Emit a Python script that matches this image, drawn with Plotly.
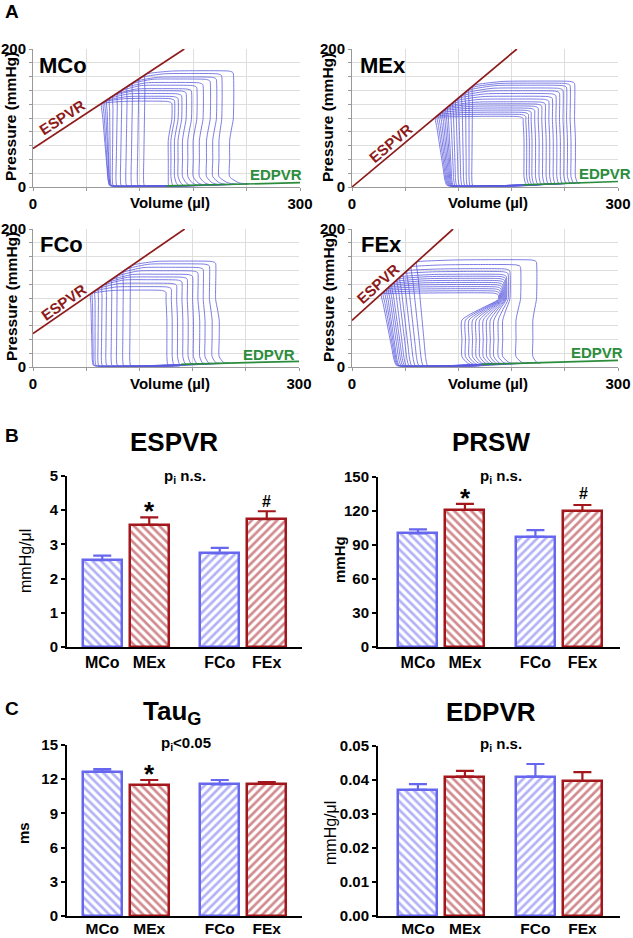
import numpy as np
import plotly.graph_objects as go

W, H = 633, 938
FONT = "Liberation Sans, Arial, sans-serif"
BLUE = "#6666ee"
RED = "#a3161b"
LOOP_C = "#5c5ce0"
ESP_C = "#8e1b1b"
EDP_C = "#2b8c3c"

# ---------------- Panel A: PV loops ----------------
pv_names = ["MCo", "MEx", "FCo", "FEx"]

mco_esv_top = [77, 79, 81, 83, 86, 90, 95, 100, 106, 112, 119, 126]
mco_esv_bot = [85, 85, 86, 86, 87, 89, 93, 98, 104, 110, 117, 124]
mco_edv_top = [156, 159, 163, 167, 172, 178, 184, 191, 199, 206, 212, 225]
mco_edv_mid = [152, 155, 159, 163, 168, 174, 180, 187, 195, 202, 209, 221]
mco_edv_bot = [152, 157, 163, 169, 176, 184, 191, 199, 208, 217, 229, 242]
mco_pes = [121, 123, 124, 126, 129, 132, 136, 141, 146, 151, 157, 163]
mco_ptop = [124, 128, 131, 135, 139, 142, 147, 151, 156, 159, 164, 168]
mco_espvr_v = [0, 170]
mco_espvr_p = [55.6, 200]
mco_edpvr_v = [150, 300]
mco_edpvr_p = [1.5, 6.3]

mex_esv_top = [94, 96, 98, 100, 102, 104, 106, 108, 111, 114, 117, 120, 124, 128, 132, 136]
mex_esv_bot = [106, 107, 108, 109, 110, 111, 112, 113, 115, 117, 120, 123, 126, 129, 132, 135]
mex_edv_top = [193, 196, 199, 202, 206, 210, 214, 218, 222, 226, 230, 234, 238, 242, 246, 251]
mex_edv_mid = [194, 197, 200, 203, 207, 211, 215, 219, 223, 227, 231, 235, 239, 243, 247, 252]
mex_edv_bot = [197, 200, 203, 206, 210, 214, 218, 222, 226, 230, 234, 238, 243, 248, 252, 257]
mex_pes = [101, 103, 105, 107.5, 110, 112, 114, 116, 119, 122.5, 126, 129, 133, 137.5, 142, 146]
mex_ptop = [102, 105, 108, 111, 114, 117, 120, 123, 127, 131, 135, 139, 143, 147, 150, 153]
mex_espvr_v = [0, 186]
mex_espvr_p = [0, 200]
mex_edpvr_v = [193, 300]
mex_edpvr_p = [3.0, 8.0]

fco_esv_top = [65, 67, 70, 74, 78, 83, 89, 95, 102, 110]
fco_esv_bot = [67, 68, 70, 73, 77, 82, 88, 94, 101, 109]
fco_edv_top = [150, 156, 162, 168, 174, 180, 186, 192, 199, 206]
fco_edv_mid = [151, 157, 163, 169, 175, 181, 188, 194, 202, 210]
fco_edv_bot = [152, 159, 166, 173, 180, 187, 194, 202, 211, 221]
fco_pes = [106, 108, 110.5, 114, 117.5, 122, 127, 132.5, 139, 146]
fco_ptop = [111, 116, 121, 126, 130, 134, 139, 144, 149, 153]
fco_espvr_v = [0, 171]
fco_espvr_p = [48.4, 200]
fco_edpvr_v = [167, 300]
fco_edpvr_p = [3.9, 8.2]

fex_esv_top = [33, 35, 37, 39, 41, 43, 45, 48, 51, 54, 58, 62, 67, 73]
fex_esv_bot = [49, 50, 51, 52, 54, 56, 58, 60, 63, 66, 70, 74, 79, 84]
fex_edv_top = [165, 166, 167, 168, 169, 170, 171, 172, 173, 174, 176, 178, 190, 208]
fex_edv_mid = [124, 128, 132, 136, 140, 144, 148, 152, 156, 160, 165, 170, 185, 204]
fex_edv_bot = [136, 140, 144, 148, 152, 156, 160, 164, 168, 172, 178, 186, 200, 214]
fex_pes = [106, 108, 110.4, 112.7, 115, 117.4, 119.7, 123, 126.7, 130, 134.8, 139.4, 145, 152]
fex_ptop = [107, 110, 113, 116, 119, 122, 125, 128, 131, 134, 138, 142, 148, 155]
fex_espvr_v = [0, 114]
fex_espvr_p = [67.5, 200]
fex_edpvr_v = [146, 300]
fex_edpvr_p = [3.9, 9.6]

pv_data = [
    (mco_esv_top, mco_esv_bot, mco_edv_top, mco_edv_mid, mco_edv_bot, mco_pes, mco_ptop,
     mco_espvr_v, mco_espvr_p, mco_edpvr_v, mco_edpvr_p),
    (mex_esv_top, mex_esv_bot, mex_edv_top, mex_edv_mid, mex_edv_bot, mex_pes, mex_ptop,
     mex_espvr_v, mex_espvr_p, mex_edpvr_v, mex_edpvr_p),
    (fco_esv_top, fco_esv_bot, fco_edv_top, fco_edv_mid, fco_edv_bot, fco_pes, fco_ptop,
     fco_espvr_v, fco_espvr_p, fco_edpvr_v, fco_edpvr_p),
    (fex_esv_top, fex_esv_bot, fex_edv_top, fex_edv_mid, fex_edv_bot, fex_pes, fex_ptop,
     fex_espvr_v, fex_espvr_p, fex_edpvr_v, fex_edpvr_p),
]

# ---------------- Panels B and C: bar charts ----------------
groups = ["MCo", "MEx", "FCo", "FEx"]
espvr_mean = [2.54, 3.57, 2.74, 3.74]
espvr_sem = [0.13, 0.22, 0.16, 0.23]
prsw_mean = [100.3, 120.9, 97.3, 120.0]
prsw_sem = [3.5, 5.3, 5.9, 5.3]
tau_mean = [12.66, 11.49, 11.55, 11.58]
tau_sem = [0.23, 0.44, 0.38, 0.17]
edpvr_mean = [0.0371, 0.0410, 0.0410, 0.0397]
edpvr_sem = [0.0017, 0.0017, 0.0037, 0.0026]

bar_pos = [0, 1, 2.5, 3.5]
bar_colors = [BLUE, RED, BLUE, RED]
bar_shapes = ["\\", "\\", "/", "/"]


def loop_path(esv_t, esv_b, edv_t, edv_m, edv_b, pes, ptop, ped):
    pr = ptop - 3
    p_hi = min(98, pr - 6)
    p_md = min(84, p_hi - 8)
    p_lo = min(68, p_md - 8)
    # isovolumic contraction (right side), bottom -> top
    xs = [edv_b, 0.5 * (edv_b + edv_m), edv_m, edv_m, edv_m, 0.5 * (edv_m + edv_t), edv_t, edv_t]
    ys = [ped, 6, 15, 40, p_lo, p_md, p_hi, pr]
    # top-right corner and ejection
    span = edv_t - esv_t
    xs += [edv_t - 1, edv_t - 5, esv_t + 0.6 * span, esv_t + 0.3 * span, esv_t + 6, esv_t]
    ys += [ptop - 1.5, ptop, ptop + 0.5, ptop, pes + 0.4 * (ptop - pes), pes]
    # isovolumic relaxation (left side)
    for f in [0.85, 0.65, 0.45, 0.25, 0.1]:
        xs.append(esv_t + (esv_b - esv_t) * (1 - f))
        ys.append(pes * f)
    # filling (bottom)
    xs += [esv_b + 1, esv_b + 6, esv_b + 0.4 * (edv_b - esv_b), esv_b + 0.75 * (edv_b - esv_b), edv_b]
    ys += [2.5, 1.2, 1.2, max(1.2, ped * 0.7), ped]
    return xs, ys


def dom_x(a, b):
    return [a / W, b / W]


def dom_y(top, bot):
    return [1 - bot / H, 1 - top / H]


fig = go.Figure()

pv_boxes = [(33, 300, 49, 187), (352, 618, 49, 187), (33, 299, 229, 367), (352, 618, 229, 367)]

for i, d in enumerate(pv_data):
    esv_t, esv_b, edv_t, edv_m, edv_b, pes, ptop, sv, sp, dv, dp = d
    xa = "x" if i == 0 else f"x{i+1}"
    ya = "y" if i == 0 else f"y{i+1}"
    for k in range(len(esv_t)):
        ped = float(np.interp(edv_b[k], dv, dp, left=2.0))
        xs, ys = loop_path(esv_t[k], esv_b[k], edv_t[k], edv_m[k], edv_b[k], pes[k], ptop[k], ped)
        fig.add_trace(go.Scatter(x=xs, y=ys, mode="lines", xaxis=xa, yaxis=ya,
                                 line=dict(color=LOOP_C, width=0.8, shape="spline", smoothing=0.6),
                                 showlegend=False, hoverinfo="skip"))
    fig.add_trace(go.Scatter(x=sv, y=sp, mode="lines", xaxis=xa, yaxis=ya,
                             line=dict(color=ESP_C, width=1.7), showlegend=False))
    fig.add_trace(go.Scatter(x=dv, y=dp, mode="lines", xaxis=xa, yaxis=ya,
                             line=dict(color=EDP_C, width=1.7), showlegend=False))

bar_sets = [(espvr_mean, espvr_sem), (prsw_mean, prsw_sem), (tau_mean, tau_sem), (edpvr_mean, edpvr_sem)]
for j, (m, s) in enumerate(bar_sets):
    idx = j + 5
    for k in range(4):
        fig.add_trace(go.Bar(
            x=[bar_pos[k]], y=[m[k]], width=0.83, xaxis=f"x{idx}", yaxis=f"y{idx}",
            marker=dict(color="white", line=dict(color=bar_colors[k], width=2.5),
                        pattern=dict(shape=bar_shapes[k], fgcolor=bar_colors[k], bgcolor="white",
                                     size=6, solidity=0.45)),
            error_y=dict(type="data", array=[s[k]], arrayminus=[0], symmetric=False,
                         color=bar_colors[k], thickness=2.2, width=9),
            showlegend=False))

layout = dict(width=W, height=H, margin=dict(l=0, r=0, t=0, b=0, autoexpand=False),
              paper_bgcolor="white", plot_bgcolor="white", bargap=0,
              font=dict(family=FONT, color="black"))

for i, (x0, x1, y0, y1) in enumerate(pv_boxes):
    sx = "" if i == 0 else str(i + 1)
    layout[f"xaxis{sx}"] = dict(
        domain=dom_x(x0, x1), range=[0, 300], anchor=f"y{sx}", automargin=False,
        tickvals=[0, 300], ticktext=["0", "300"],
        tickfont=dict(size=15, weight="bold", color="black"), ticks="outside", ticklen=3,
        tickcolor="#999", showline=True, linecolor="#999", linewidth=1,
        showgrid=True, gridcolor="#dedede", gridwidth=1, zeroline=False,
        minor=dict(tickvals=[60, 120, 180, 240], ticks="outside", ticklen=3, tickcolor="#999",
                   showgrid=True, gridcolor="#dedede", gridwidth=1))
    layout[f"yaxis{sx}"] = dict(
        domain=dom_y(y0, y1), range=[0, 200], anchor=f"x{sx}", automargin=False,
        tickvals=[0, 200], ticktext=["0", "200"],
        tickfont=dict(size=15, weight="bold", color="black"), ticks="outside", ticklen=3,
        tickcolor="#999", showline=True, linecolor="#999", linewidth=1,
        showgrid=True, gridcolor="#dedede", gridwidth=1, zeroline=False,
        minor=dict(tickvals=list(range(20, 200, 20)), ticks="outside", ticklen=3, tickcolor="#999",
                   showgrid=True, gridcolor="#dedede", gridwidth=1))

bar_boxes = [(67, 302, 476, 647, [-0.75, 4.25], [0, 5], 1, None, 0),
             (378, 620, 477, 647, [-0.85, 4.3], [0, 150], 30, None, 0),
             (67, 302, 745, 916, [-0.75, 4.25], [0, 15], 3, None, -3),
             (378, 620, 746, 916, [-0.85, 4.3], [0, 0.05], 0.01, ".2f", -3)]
for j, (x0, x1, y0, y1, xr, yr, dt, fmt, so) in enumerate(bar_boxes):
    idx = j + 5
    layout[f"xaxis{idx}"] = dict(
        domain=dom_x(x0, x1), range=xr, anchor=f"y{idx}", automargin=False,
        tickvals=bar_pos, ticktext=groups, ticks="", ticklabelstandoff=so,
        tickfont=dict(size=16 if so == 0 else 15.5, weight="bold", color="black"),
        showline=True, linecolor="black", linewidth=2, showgrid=False, zeroline=False)
    ya = dict(domain=dom_y(y0, y1), range=yr, anchor=f"x{idx}", dtick=dt, automargin=False,
              tickfont=dict(size=15, weight="bold", color="black"),
              ticks="outside", ticklen=4, tickwidth=2, tickcolor="black",
              showline=True, linecolor="black", linewidth=2, showgrid=False, zeroline=False)
    if fmt:
        ya["tickformat"] = fmt
    layout[f"yaxis{idx}"] = ya

anns = []


def A(text, x, y, size, color="black", bold=True, angle=0, xanchor="center", yanchor="middle"):
    anns.append(dict(text=f"<b>{text}</b>" if bold else text, x=x / W, y=1 - y / H,
                     xref="paper", yref="paper", showarrow=False,
                     font=dict(size=size, color=color, family=FONT),
                     textangle=angle, xanchor=xanchor, yanchor=yanchor))


# panel letters
A("A", 3, 12, 19, xanchor="left")
A("B", 3, 435, 19, xanchor="left")
A("C", 3, 708, 19, xanchor="left")

# PV panel labels
name_pos = [(37, 65), (358, 65), (38, 245), (359, 245)]
for (x, y), nm in zip(name_pos, pv_names):
    A(nm, x, y, 22, xanchor="left")
for x, y in [(11, 117), (328, 117), (11, 297), (328, 297)]:
    A("Pressure (mmHg)", x, y, 15.5, angle=-90)
for x, y in [(170, 203), (488, 203), (170, 383), (488, 383)]:
    A("Volume (µl)", x, y, 15)
esp_lab = [(62, 118, -33), (390, 143, -40), (63, 302, -35), (378, 283, -42)]
for x, y, ang in esp_lab:
    A("ESPVR", x, y, 15, color=ESP_C, angle=ang)
for x, y in [(276, 174), (605, 173), (269, 354), (597, 352)]:
    A("EDPVR", x, y, 15, color=EDP_C)

# bar panel titles
A("ESPVR", 174, 442, 26)
A("PRSW", 491, 442, 26)
A("Tau<sub>G</sub>", 172, 712, 26)
A("EDPVR", 491, 712, 26)
A("p<sub>i</sub> n.s.", 185, 476, 15)
A("p<sub>i</sub> n.s.", 501, 476, 15)
A("p<sub>i</sub><0.05", 186, 743, 15)
A("p<sub>i</sub> n.s.", 501, 744, 15)
A("mmHg/μl", 25, 561, 16, bold=False, angle=-90)
A("mmHg", 339, 560, 15, angle=-90)
A("ms", 23, 833, 15, angle=-90)
A("mmHg/μl", 330, 833, 16, bold=False, angle=-90)
# significance marks
A("*", 149, 511, 26)
A("#", 266, 501, 16)
A("*", 465, 498, 26)
A("#", 583, 494, 16)
A("*", 149, 774, 26)

layout["annotations"] = anns
fig.update_layout(**layout)
fig.write_html("out.html", config={"displayModeBar": False},
               post_script="document.body.style.margin='0px';document.body.style.overflow='hidden';")
